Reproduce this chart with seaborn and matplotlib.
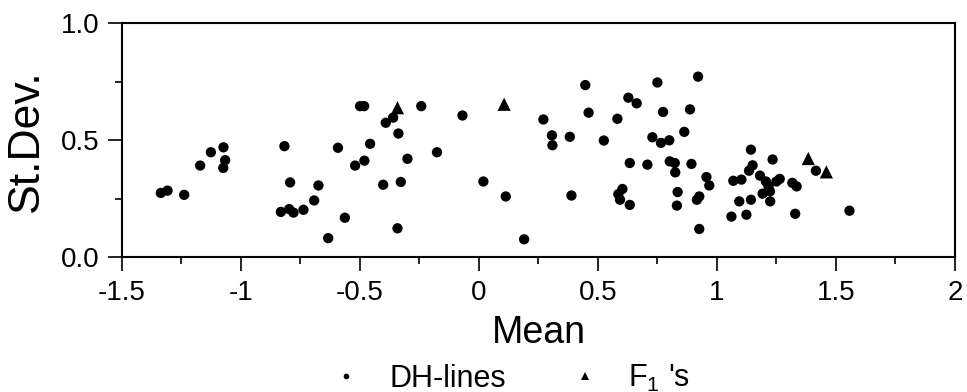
import numpy as np
import pandas as pd
import matplotlib
matplotlib.use("Agg")
import matplotlib.pyplot as plt
from matplotlib.ticker import MultipleLocator
import seaborn as sns

# -- data --
dh_mean = [-1.336, -1.308, -1.238, -1.171, -1.126, -1.073, -1.066, -1.074,
           -0.817, -0.793, -0.832, -0.797, -0.779, -0.737, -0.692, -0.674,
           -0.633, -0.563, -0.592, -0.520, -0.481, -0.457, -0.499, -0.482,
           -0.391, -0.402, -0.360, -0.338, -0.300, -0.328, -0.342, -0.242,
           -0.176, -0.069, 0.019, 0.113, 0.190, 0.271, 0.307, 0.309,
           0.382, 0.389, 0.447, 0.461, 0.525, 0.582, 0.628, 0.663,
           0.634, 0.708, 0.603, 0.586, 0.593, 0.634, 0.750, 0.774,
           0.729, 0.765, 0.800, 0.802, 0.823, 0.825, 0.835, 0.832,
           0.863, 0.887, 0.921, 0.893, 0.956, 0.968, 0.926, 0.916,
           0.926, 1.069, 1.103, 1.061, 1.094, 1.124, 1.143, 1.143,
           1.150, 1.135, 1.181, 1.206, 1.217, 1.223, 1.192, 1.224,
           1.234, 1.250, 1.264, 1.317, 1.335, 1.329, 1.416, 1.557]
dh_sd = [0.275, 0.285, 0.267, 0.392, 0.449, 0.470, 0.415, 0.382,
         0.475, 0.320, 0.194, 0.206, 0.191, 0.203, 0.243, 0.307,
         0.082, 0.169, 0.468, 0.392, 0.413, 0.485, 0.646, 0.646,
         0.575, 0.310, 0.597, 0.529, 0.421, 0.322, 0.124, 0.646,
         0.449, 0.606, 0.324, 0.260, 0.077, 0.589, 0.521, 0.479,
         0.515, 0.264, 0.736, 0.618, 0.499, 0.592, 0.682, 0.658,
         0.403, 0.396, 0.292, 0.270, 0.246, 0.224, 0.747, 0.621,
         0.513, 0.489, 0.500, 0.410, 0.403, 0.363, 0.279, 0.221,
         0.536, 0.632, 0.772, 0.399, 0.343, 0.307, 0.260, 0.246,
         0.121, 0.327, 0.332, 0.174, 0.239, 0.182, 0.246, 0.460,
         0.393, 0.370, 0.349, 0.324, 0.303, 0.282, 0.272, 0.239,
         0.418, 0.324, 0.335, 0.318, 0.303, 0.186, 0.370, 0.199]

f1_mean = [-0.342, 0.106, 1.384, 1.460]
f1_sd = [0.639, 0.654, 0.422, 0.365]

dh_label = "DH-lines"
f1_label = r"F$_\mathregular{1}$ 's"

x_ticks = [-1.5, -1, -0.5, 0, 0.5, 1, 1.5, 2]
x_ticklabels = ["-1.5", "-1", "-0.5", "0", "0.5", "1", "1.5", "2"]
y_ticks = [0, 0.5, 1]
y_ticklabels = ["0.0", "0.5", "1.0"]

df = pd.DataFrame({
    "Mean": dh_mean + f1_mean,
    "St.Dev.": dh_sd + f1_sd,
    "group": [dh_label] * len(dh_mean) + [f1_label] * len(f1_mean),
})

sns.set_style("white")
plt.rcParams["font.family"] = ["Liberation Sans", "DejaVu Sans"]
plt.rcParams["mathtext.fontset"] = "custom"
plt.rcParams["mathtext.rm"] = "Liberation Sans"
for k in ["text.color", "axes.labelcolor", "xtick.color", "ytick.color"]:
    plt.rcParams[k] = "black"

fig = plt.figure(figsize=(9.67, 3.92), dpi=100)
ax = fig.add_axes([0.126, 0.3436, 0.8615, 0.597])

sns.scatterplot(data=df, x="Mean", y="St.Dev.", hue="group", style="group",
                size="group",
                palette={dh_label: "black", f1_label: "black"},
                markers={dh_label: "o", f1_label: "^"},
                sizes={dh_label: 55, f1_label: 90},
                edgecolor="none", linewidth=0, ax=ax)

ax.set_xlim(-1.5, 2)
ax.set_ylim(0, 1)
ax.xaxis.set_minor_locator(MultipleLocator(0.25))
ax.yaxis.set_minor_locator(MultipleLocator(0.25))
ax.set_xticks(x_ticks)
ax.set_xticklabels(x_ticklabels)
ax.set_yticks(y_ticks)
ax.set_yticklabels(y_ticklabels)

ax.tick_params(which="major", direction="out", length=10, width=1.2,
               color="black", labelsize=20, pad=6, left=True, bottom=True)
ax.tick_params(which="minor", direction="out", length=5, width=1.2,
               color="black", left=True, bottom=True)
for sp in ax.spines.values():
    sp.set_color("black")
    sp.set_linewidth(1.5)

ax.set_xlabel("Mean", fontsize=27, labelpad=7)
ax.set_ylabel("St.Dev.", fontsize=32, labelpad=10)

handles, labels = ax.get_legend_handles_labels()
ax.legend_.remove()
fig.legend(handles, labels, loc="center", bbox_to_anchor=(0.52, 0.035),
           ncol=2, frameon=False, fontsize=22, markerscale=0.55,
           handletextpad=0.4, columnspacing=1.6, borderpad=0)

fig.savefig("out.png", dpi=100)
